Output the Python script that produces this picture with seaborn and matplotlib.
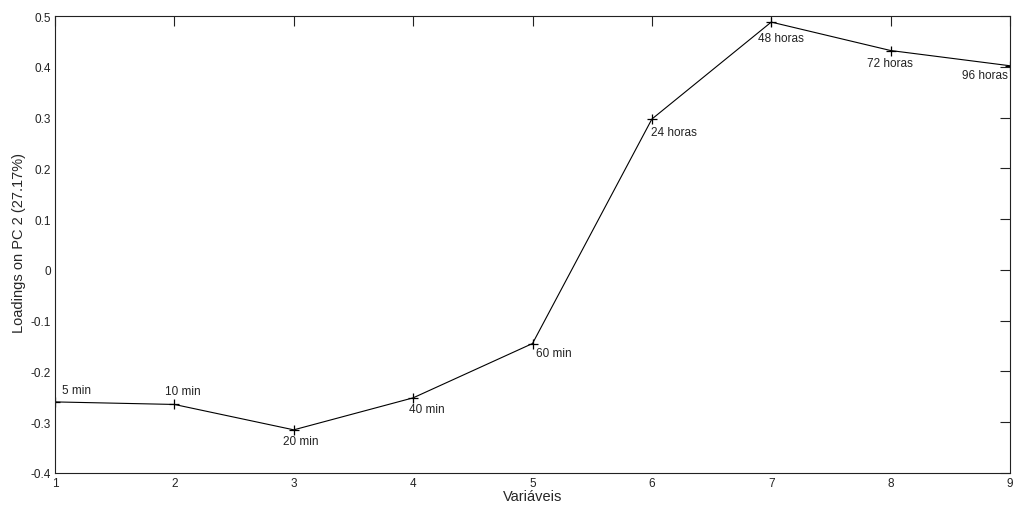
import matplotlib
matplotlib.use("Agg")
import matplotlib.pyplot as plt
import seaborn as sns
import pandas as pd

variaveis = [1, 2, 3, 4, 5, 6, 7, 8, 9]
loadings = [-0.260, -0.265, -0.315, -0.252, -0.145, 0.297, 0.488, 0.432, 0.402]
rotulos = ["5 min", "10 min", "20 min", "40 min", "60 min",
           "24 horas", "48 horas", "72 horas", "96 horas"]
# label offsets in pixels (dx, dy) relative to each point
offsets_px = [(7, 12), (-9, 13), (-11, -11), (-4, -11), (4, -9),
              (-1, -13), (-13, -16), (-24, -12), (-48, -9)]

sns.set_style("white")
plt.rcParams["font.family"] = ["Liberation Sans", "DejaVu Sans"]

df = pd.DataFrame({"Variáveis": variaveis, "Loading": loadings})

dpi = 100
fig = plt.figure(figsize=(10.14, 5.10), dpi=dpi)
ax = fig.add_axes([55 / 1014, 1 - 474 / 510, (1010 - 55) / 1014, (474 - 17) / 510])

sns.lineplot(data=df, x="Variáveis", y="Loading", ax=ax, color="black",
             linewidth=0.8, marker="+", markersize=7, markeredgewidth=0.9,
             markeredgecolor="black")

pt = 72 / dpi
for xv, yv, lab, (dx, dy) in zip(variaveis, loadings, rotulos, offsets_px):
    ax.annotate(lab, (xv, yv), xytext=(dx * pt, dy * pt), textcoords="offset points",
                ha="left", va="center", fontsize=8.5, color="#222222")

ax.set_xlim(1, 9)
ax.set_ylim(-0.4, 0.5)
ax.set_xticks(variaveis)
ax.set_yticks([-0.4, -0.3, -0.2, -0.1, 0, 0.1, 0.2, 0.3, 0.4, 0.5])
ax.set_yticklabels(["-0.4", "-0.3", "-0.2", "-0.1", "0", "0.1", "0.2", "0.3", "0.4", "0.5"])
ax.tick_params(direction="in", length=7, width=0.8, labelsize=8.5,
               top=True, right=True, colors="#222222", pad=3)
for s in ax.spines.values():
    s.set_visible(True)
    s.set_color("#222222")
    s.set_linewidth(0.8)

ax.set_xlabel("Variáveis", fontsize=10.5, labelpad=0)
ax.set_ylabel("Loadings on PC 2 (27.17%)", fontsize=10.5, labelpad=2)
ax.yaxis.set_label_coords(-29 / 955, 0.505)

fig.savefig("out.png", dpi=dpi)
